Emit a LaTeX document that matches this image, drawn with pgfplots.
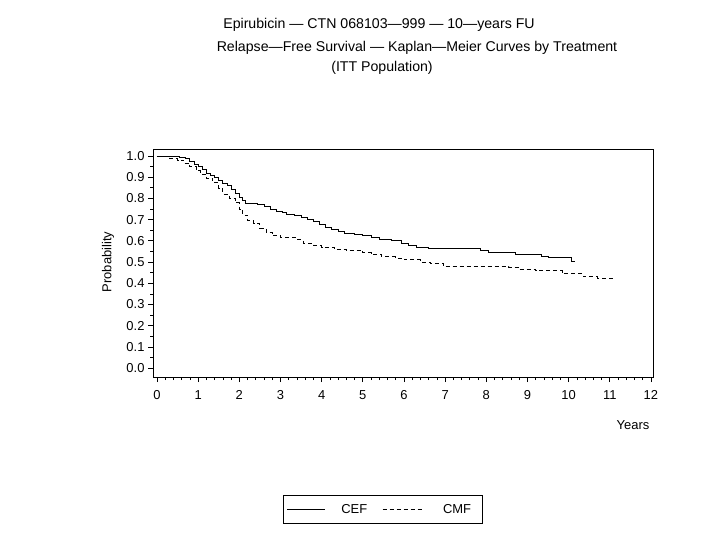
\documentclass[border=0pt]{standalone}
\usepackage{fontspec}
\setmainfont{Liberation Sans}
\usepackage{pgfplots}
\pgfplotsset{compat=1.18}
\begin{document}
\begin{tikzpicture}
\path[use as bounding box] (0,0) rectangle (709bp,546bp);
\node[font=\fontsize{14.2}{17}\selectfont] at (379bp,521bp) {Epirubicin — CTN 068103—999 — 10—years FU};
\node[font=\fontsize{14.2}{17}\selectfont] at (417bp,498bp) {Relapse—Free Survival — Kaplan—Meier Curves by Treatment};
\node[font=\fontsize{14.2}{17}\selectfont] at (382bp,478bp) {(ITT Population)};
\begin{axis}[
  at={(153bp,169bp)}, anchor=south west,
  width=500bp, height=228bp, scale only axis,
  xmin=-0.097, xmax=12.05, ymin=-0.042, ymax=1.033,
  axis line style={line width=0.9bp, black},
  xtick={0,1,...,12}, minor x tick num=4,
  ytick={0,0.1,0.2,0.3,0.4,0.5,0.6,0.7,0.8,0.9,1.0}, minor y tick num=1,
  tick pos=left, tick align=outside,
  major tick length=5bp, minor tick length=3bp,
  every tick/.style={black, line width=0.7bp},
  yticklabel style={/pgf/number format/.cd, fixed, fixed zerofill, precision=1},
  xticklabel style={yshift=-5bp},
  /pgf/number format/assume math mode=true,
  ticklabel style={font=\fontsize{13}{15}\selectfont},
  legend columns=2,
  legend style={at={(0.26,-0.581)}, anchor=west, draw=black, line width=0.8bp,
    font=\fontsize{13}{15}\selectfont, inner xsep=3bp, inner ysep=6.5bp,
    /tikz/every even column/.append style={column sep=13bp}},
]
\addplot[const plot, black, line width=0.9bp,
  legend image code/.code={\draw[black, line width=0.9bp] (0bp,0bp) -- (38bp,0bp); \path (52bp,0bp);}] coordinates {
(0,1.000) (0.55,0.995) (0.70,0.990) (0.80,0.975) (0.90,0.960) (1.00,0.950)
(1.10,0.935) (1.20,0.920) (1.30,0.910) (1.40,0.900) (1.50,0.885) (1.60,0.870)
(1.70,0.860) (1.80,0.840) (1.90,0.825) (2.00,0.805) (2.08,0.790) (2.15,0.775)
(2.45,0.770) (2.60,0.760) (2.75,0.750) (2.90,0.740) (3.05,0.735) (3.15,0.725)
(3.35,0.720) (3.50,0.710) (3.65,0.700) (3.80,0.690) (3.95,0.675) (4.10,0.665)
(4.25,0.655) (4.40,0.645) (4.55,0.637) (4.80,0.632) (5.00,0.625) (5.20,0.615)
(5.40,0.605) (5.70,0.600) (5.95,0.590) (6.10,0.578) (6.30,0.570) (6.60,0.565)
(7.85,0.555) (8.05,0.545) (8.70,0.535) (9.35,0.525) (9.50,0.520) (10.08,0.505)
(10.15,0.505)
};
\addlegendentry{CEF}
\addplot[const plot, black, line width=0.9bp, dash pattern=on 4bp off 3bp,
  legend image code/.code={\draw[black, line width=0.9bp, dash pattern=on 4bp off 3bp] (0bp,0bp) -- (40bp,0bp); \path (58bp,0bp);}] coordinates {
(0,1.000) (0.30,0.990) (0.50,0.980) (0.65,0.965) (0.80,0.950) (0.95,0.930)
(1.05,0.915) (1.20,0.895) (1.35,0.875) (1.50,0.845) (1.60,0.820) (1.75,0.800)
(1.90,0.780) (2.00,0.750) (2.08,0.720) (2.20,0.695) (2.35,0.680) (2.50,0.660)
(2.65,0.640) (2.80,0.625) (3.00,0.615) (3.40,0.605) (3.55,0.590) (3.80,0.580)
(4.00,0.570) (4.30,0.560) (4.60,0.555) (5.00,0.545) (5.20,0.535) (5.45,0.525)
(5.80,0.518) (6.00,0.510) (6.40,0.500) (6.65,0.495) (6.95,0.480) (8.55,0.475)
(8.80,0.465) (9.20,0.460) (9.85,0.445) (10.35,0.430) (10.70,0.425) (11.08,0.420)
};
\addlegendentry{CMF\hspace*{6bp}}
\end{axis}
\node[rotate=90, font=\fontsize{13}{15}\selectfont] at (108bp,284bp) {Probability};
\node[font=\fontsize{13}{15}\selectfont] at (633bp,121bp) {Years};
\end{tikzpicture}
\end{document}
